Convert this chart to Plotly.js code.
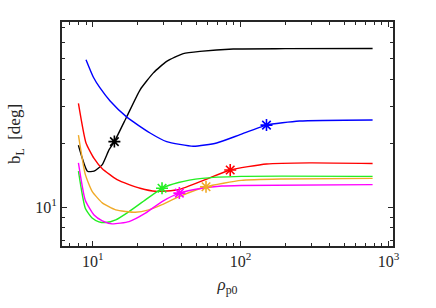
<!DOCTYPE html>
<html>
<head>
<meta charset="utf-8">
<script src="https://cdn.plot.ly/plotly-3.0.1.min.js"></script>
<style>html,body{margin:0;padding:0;background:#fff;}#plot{width:436px;height:308px;}</style>
</head>
<body>
<div id="plot"></div>
<script>
const blackX = [8, 9.2, 10.2, 11.6, 12.9, 14, 17, 20.9, 25.7, 31.6, 40.9, 53.1, 89, 200, 780];
const blackY = [19.6, 14.8, 14.8, 15.9, 18.7, 20.4, 26.8, 35.8, 43.0, 48.7, 53.0, 54.3, 55.7, 55.9, 56.0];
const blueX = [9, 10.1, 11.2, 13.1, 17, 24.4, 31.6, 47.8, 68.8, 99, 149.5, 250, 780];
const blueY = [49.6, 41, 36.5, 31.7, 26.6, 22.4, 20.4, 19.4, 20.1, 22.0, 24.4, 25.5, 25.8];
const redX = [8, 9, 10.2, 11.6, 14.6, 17.6, 20.9, 26.5, 38, 57.6, 85, 149.5, 293, 780];
const redY = [30.9, 20.1, 17.0, 15.2, 13.5, 12.8, 12.3, 11.9, 12.1, 13.5, 15.0, 16.0, 16.2, 16.1];
const greenX = [8, 8.9, 9.9, 11, 12.2, 14.3, 17.6, 22.7, 29.4, 38, 54.9, 101, 780];
const greenY = [14.8, 9.9, 8.9, 8.55, 8.48, 8.73, 9.55, 10.85, 12.3, 13.1, 13.7, 14.0, 14.0];
const orangeX = [8, 8.9, 9.9, 11.6, 14.3, 19.4, 23.9, 29.4, 38, 58.3, 101, 193.6, 780];
const orangeY = [21.9, 14.3, 11.9, 10.5, 9.73, 9.48, 9.73, 10.3, 11.2, 12.5, 13.4, 13.6, 13.7];
const magentaX = [8, 8.9, 10.2, 11.6, 13.5, 17.6, 22.7, 29.4, 38.5, 54.9, 74.6, 101, 780];
const magentaY = [16.2, 10.8, 9.2, 8.64, 8.36, 8.57, 9.39, 10.65, 11.67, 12.3, 12.6, 12.67, 12.8];

const seriesColors = ['#000000', '#0000ff', '#ff0000', '#22ee22', '#f0aa28', '#ff00ff'];
const markerX = [14, 149.5, 85, 29.4, 58.3, 38.5];
const markerY = [20.4, 24.4, 15.0, 12.3, 12.5, 11.67];

const xTickVals = [10, 100, 1000];
const xTickText = ['10<sup>1</sup>', '10<sup>2</sup>', '10<sup>3</sup>'];
const yTickVals = [10];
const yTickText = ['10<sup>1</sup>'];
const xMinor = [7, 8, 9, 20, 30, 40, 50, 60, 70, 80, 90, 200, 300, 400, 500, 600, 700, 800, 900];
const yMinor = [7, 8, 9, 20, 30, 40, 50, 60, 70];

const xs = [blackX, blueX, redX, greenX, orangeX, magentaX];
const ys = [blackY, blueY, redY, greenY, orangeY, magentaY];

const traces = [];
xs.forEach((x, i) => {
  traces.push({x: x, y: ys[i], mode: 'lines', type: 'scatter',
    line: {color: seriesColors[i], width: 1.4, shape: 'spline', smoothing: 0.5},
    hoverinfo: 'none', showlegend: false});
});
markerX.forEach((mx, i) => {
  traces.push({x: [mx], y: [markerY[i]], mode: 'markers', type: 'scatter',
    marker: {symbol: 'asterisk-open', size: 10, color: seriesColors[i], line: {color: seriesColors[i], width: 1.6}},
    hoverinfo: 'none', showlegend: false});
});

const font = {family: 'Liberation Serif, Times New Roman, serif', size: 16, color: '#262626'};
const layout = {
  width: 436, height: 308,
  margin: {l: 62, r: 43, t: 22, b: 62},
  paper_bgcolor: '#fff', plot_bgcolor: '#fff',
  font: font,
  showlegend: false,
  xaxis: {
    type: 'log', range: [0.792, 3.03],
    tickmode: 'array', tickvals: xTickVals, ticktext: xTickText,
    ticks: 'inside', ticklen: 5, tickwidth: 1.2, tickcolor: '#262626',
    showline: true, linecolor: '#262626', linewidth: 2, mirror: 'ticks',
    showgrid: false, zeroline: false,
    minor: {tickmode: 'array', tickvals: xMinor, ticks: 'inside', ticklen: 3, tickwidth: 1, tickcolor: '#262626', showgrid: false},
    tickfont: {family: font.family, size: 16, color: '#262626'},
    title: {text: '<i>ρ</i><sub>p0</sub>', font: {family: font.family, size: 17, color: '#262626'}, standoff: 9}
  },
  yaxis: {
    type: 'log', range: [0.818, 1.873],
    tickmode: 'array', tickvals: yTickVals, ticktext: yTickText,
    ticks: 'inside', ticklen: 5, tickwidth: 1.2, tickcolor: '#262626',
    showline: true, linecolor: '#262626', linewidth: 2, mirror: 'ticks',
    showgrid: false, zeroline: false,
    minor: {tickmode: 'array', tickvals: yMinor, ticks: 'inside', ticklen: 3, tickwidth: 1, tickcolor: '#262626', showgrid: false},
    tickfont: {family: font.family, size: 16, color: '#262626'},
    title: {text: 'b<sub>L</sub>  [deg]', font: {family: font.family, size: 17, color: '#262626'}, standoff: 10}
  }
};
Plotly.newPlot('plot', traces, layout, {staticPlot: true, displayModeBar: false});
</script>
</body>
</html>
